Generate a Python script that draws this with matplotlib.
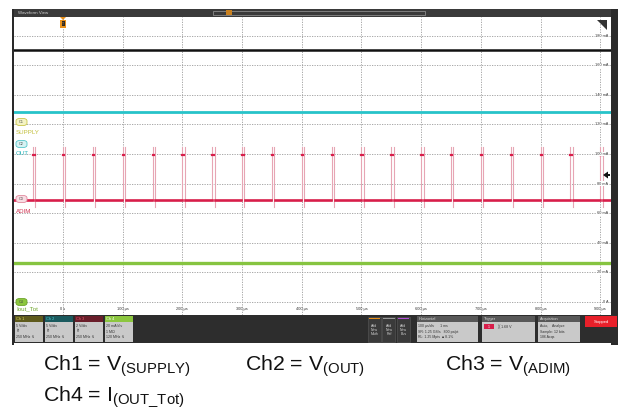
import matplotlib
matplotlib.use("Agg")
import matplotlib.pyplot as plt
from matplotlib.patches import Rectangle, FancyBboxPatch, Polygon

plt.rcParams['font.family'] = ['Liberation Sans', 'DejaVu Sans']
plt.rcParams['mathtext.fontset'] = 'custom'
plt.rcParams['mathtext.rm'] = 'Liberation Sans'
plt.rcParams['mathtext.it'] = 'Liberation Sans'

# ---------------- data (display units: time in µs, level in mA-equivalent grid units)
time_ticks_us = [0, 100, 200, 300, 400, 500, 600, 700, 800, 900]
time_labels = ["0 s", "100 µs", "200 µs", "300 µs", "400 µs", "500 µs",
               "600 µs", "700 µs", "800 µs", "900 µs"]
level_ticks = [0, 20, 40, 60, 80, 100, 120, 140, 160, 180]
level_labels = ["0 A", "20 mA", "40 mA", "60 mA", "80 mA", "100 mA",
                "120 mA", "140 mA", "160 mA", "180 mA"]

supply_level = 170.0      # Ch1 V(SUPPLY)
out_level = 128.4         # Ch2 V(OUT)
adim_low = 68.9           # Ch3 V(ADIM) low
adim_high = 99.3          # Ch3 V(ADIM) high
adim_overshoot = 104.7
adim_undershoot = 64.2
iout_level = 26.3         # Ch4 I(OUT_Tot)
pulse_times_us = [-50, 0, 50, 100, 150, 200, 250, 300, 350, 400, 450,
                  500, 550, 600, 650, 700, 750, 800, 850, 900]
pulse_width_us = 4.0

channel_boxes = [("Ch 1", ["5 V/div", "ℏ", "250 MHz ↯"]),
                 ("Ch 2", ["5 V/div", "ℏ", "250 MHz ↯"]),
                 ("Ch 3", ["2 V/div", "ℏ", "250 MHz ↯"]),
                 ("Ch 4", ["20 mA/div", "1 MΩ", "120 MHz ↯"])]

W, H = 630, 415
fig = plt.figure(figsize=(W / 100, H / 100), dpi=100)
fig.patch.set_facecolor("white")


def fx(x):
    return x / W


def fy(y):
    return 1 - y / H


def prect(x0, y0, x1, y1, **kw):
    r = Rectangle((fx(x0), fy(y1)), (x1 - x0) / W, (y1 - y0) / H,
                  transform=fig.transFigure, **kw)
    fig.add_artist(r)
    return r


def ptext(x, y, s, **kw):
    fig.text(fx(x), fy(y), s, **kw)


# ---------------- frame
prect(12, 9, 14, 345, color="#2a2a2a", lw=0)
prect(611, 9, 618, 345, color="#2a2a2a", lw=0)

# ---------------- main axes
ax = fig.add_axes([fx(14), fy(315), (611 - 14) / W, (315 - 17) / H])
ax.set_xlim(-82, 918)
ax.set_ylim(-8.8, 192.6)
ax.set_facecolor("white")
for s in ax.spines.values():
    s.set_visible(False)
ax.set_xticks([])
ax.set_yticks([])
for t in time_ticks_us:
    ax.axvline(t, color="#9a9a9a", lw=0.6, ls=(0, (1.5, 1.5)), zorder=1)
for v in level_ticks:
    ax.axhline(v, color="#9a9a9a", lw=0.6, ls=(0, (1.5, 1.5)), zorder=1)

# Ch1 black, Ch2 cyan, Ch4 green
ax.plot([-82, 918], [supply_level, supply_level], color="#111111", lw=1.8, zorder=3)
ax.plot([-82, 918], [out_level, out_level], color="#27c3c9", lw=2.0, zorder=3)
ax.plot([-82, 918], [iout_level, iout_level], color="#86c440", lw=2.4, zorder=3)

# Ch3 pulses
red = "#d81e4a"
pink = "#e7a5b4"
for t in pulse_times_us:
    ax.plot([t, t], [adim_low, adim_overshoot], color=pink, lw=0.8, zorder=2)
    ax.plot([t + pulse_width_us, t + pulse_width_us], [adim_overshoot, adim_undershoot],
            color=pink, lw=0.8, zorder=2)
    ax.plot([t, t + 2.5], [adim_high, adim_high], color=red, lw=1.6, zorder=3)
prev = -82
for t in pulse_times_us:
    ax.plot([prev, t - 1], [adim_low, adim_low], color=red, lw=1.9, zorder=3)
    prev = t + pulse_width_us + 1
ax.plot([prev, 918], [adim_low, adim_low], color=red, lw=1.9, zorder=3)

# tick labels inside graticule
for t, lab in zip(time_ticks_us, time_labels):
    ax.text(t, -4.7, lab, fontsize=2.8, ha="center", va="center", color="#333333", zorder=5)
for v, lab in zip(level_ticks, level_labels):
    ax.text(914, v, lab, fontsize=2.8, ha="right", va="center", color="#333333", zorder=5,
            bbox=dict(boxstyle="square,pad=0.1", fc="white", ec="none"))

# ---------------- channel badges / names on left
badges = [("C1", 122, "#f4f3c4", "#c9c64a", "SUPPLY", 132, "#c2be3a"),
          ("C2", 144, "#d6f2f3", "#55c6cb", "OUT", 153, "#2bb6bc"),
          ("C3", 199, "#f8dbe2", "#e08a9e", "ADIM", 211, "#d0304f"),
          ("C4", 302, "#8cc63f", "#6ea52c", "Iout_Tot", 309, "#6ea52c")]
for lab, by, fc, ec, name, ny, nc in badges:
    b = FancyBboxPatch((fx(16), fy(by + 3.5)), 11 / W, 7 / H,
                       boxstyle="round,pad=0,rounding_size=0.006",
                       transform=fig.transFigure, fc=fc, ec=ec, lw=0.6, zorder=10)
    fig.add_artist(b)
    ptext(21.5, by, lab, fontsize=2.7, ha="center", va="center", color="#444444", zorder=11)
    ptext(16, ny, name, fontsize=4.4, ha="left", va="center", color=nc, zorder=11)

# trigger marker at t=0
fig.add_artist(Polygon([[fx(60), fy(17)], [fx(66), fy(17)], [fx(63), fy(20)]],
                       closed=True, transform=fig.transFigure, fc="#e8901a", ec="none"))
prect(60, 20, 66, 28, fc="#e8901a", ec="none")
prect(61.5, 21.5, 64.5, 26.5, fc="#2a2a2a", ec="none")
ptext(63, 24, "T", fontsize=2.6, ha="center", va="center", color="#e8901a")

# right markers
fig.add_artist(Polygon([[fx(597), fy(20)], [fx(607), fy(20)], [fx(607), fy(30)]],
                       closed=True, transform=fig.transFigure, fc="#333333", ec="none"))
fig.add_artist(Polygon([[fx(603), fy(175)], [fx(608), fy(171.5)], [fx(608), fy(178.5)]],
                       closed=True, transform=fig.transFigure, fc="#111111", ec="none"))
prect(607, 174, 610, 176, fc="#111111", ec="none")

# ---------------- title bar
prect(14, 9, 611, 17, fc="#3a3a3a", ec="none")
ptext(18, 13, "Waveform View", fontsize=3.2, ha="left", va="center", color="#d0d0d0")
prect(213, 11, 425, 15, fc="none", ec="#9a9a9a", lw=0.5)
prect(226, 10.5, 232, 15.5, fc="#c9801e", ec="none")

# ---------------- status bar
prect(14, 315, 618, 343, fc="#2d2d2d", ec="none")
hdr_colors = ["#5e5a1c", "#1b5a5e", "#6a1e2a", "#8cc63f"]
hdr_text = ["#e0dc60", "#50d0d6", "#ef5a70", "#ffffff"]
for i, (name, lines) in enumerate(channel_boxes):
    x0 = 15 + i * 30
    prect(x0, 316, x0 + 28, 322, fc=hdr_colors[i], ec="none")
    ptext(x0 + 1.5, 319, name, fontsize=2.8, ha="left", va="center", color=hdr_text[i])
    prect(x0, 322, x0 + 28, 342, fc="#c9c9c9", ec="none")
    for j, ln in enumerate(lines):
        ptext(x0 + 1.5, 326 + j * 5.5, ln, fontsize=2.6, ha="left", va="center", color="#333333")

strip = ["#e8901a", "#9a9a9a", "#b34fd8"]
names = ["Math", "Ref", "Bus"]
for i in range(3):
    x0 = 368 + i * 14.5
    prect(x0, 317, x0 + 13, 342, fc="#3a3a3a", ec="#5a5a5a", lw=0.4)
    prect(x0 + 1, 318, x0 + 12, 319.2, fc=strip[i], ec="none")
    ptext(x0 + 6.5, 330, "Add\nNew\n" + names[i], fontsize=2.5, ha="center", va="center",
          color="#cfcfcf", linespacing=1.0)

panels = [(417, 478, "Horizontal", ["100 µs/div      1 ms", "SR: 1.25 GS/s   800 ps/pt",
                                    "RL: 1.25 Mpts  ■ 8.1%"]),
          (482, 535, "Trigger", ["", "", ""]),
          (538, 580, "Acquisition", ["Auto,    Analyze", "Sample: 12 bits", "186 Acqs"])]
for x0, x1, title, lines in panels:
    prect(x0, 316, x1, 322, fc="#585858", ec="none")
    ptext(x0 + 1.5, 319, title, fontsize=2.8, ha="left", va="center", color="#dcdcdc")
    prect(x0, 322, x1, 342, fc="#c9c9c9", ec="none")
    for j, ln in enumerate(lines):
        ptext(x0 + 1.5, 326 + j * 5.5, ln, fontsize=2.5, ha="left", va="center", color="#333333")
prect(484, 324, 494, 329, fc="#d81e4a", ec="none")
ptext(489, 326.5, "1", fontsize=2.5, ha="center", va="center", color="#ffffff")
ptext(497, 326.5, "╳  1.68 V", fontsize=2.6, ha="left", va="center", color="#333333")

prect(585, 316, 617, 327, fc="#e8202a", ec="none")
ptext(601, 321.5, "Stopped", fontsize=3.0, ha="center", va="center", color="#ffffff")

# ---------------- captions
cap_kw = dict(fontsize=15.3, ha="left", va="center", color="#111111")
ptext(43, 366, r"Ch1 = V$_{\mathrm{(SUPPLY)}}$", **cap_kw)
ptext(245, 366, r"Ch2 = V$_{\mathrm{(OUT)}}$", **cap_kw)
ptext(445, 366, r"Ch3 = V$_{\mathrm{(ADIM)}}$", **cap_kw)
ptext(43, 397, r"Ch4 = I$_{\mathrm{(OUT\_Tot)}}$", **cap_kw)

fig.savefig("out.png", dpi=100, facecolor="white")
